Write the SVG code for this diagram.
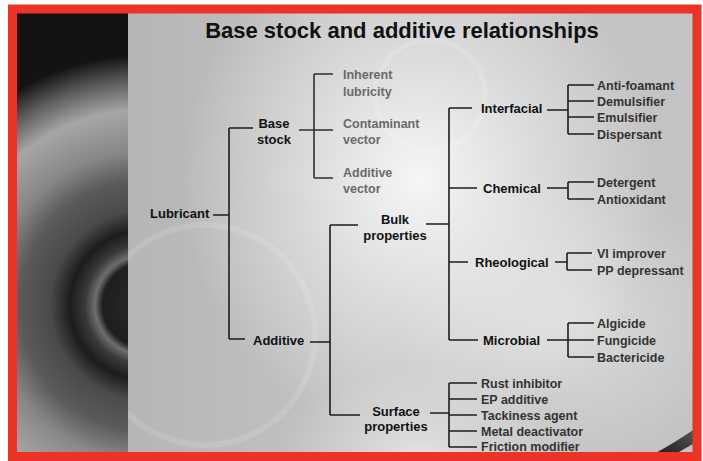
<svg xmlns="http://www.w3.org/2000/svg" width="703" height="461" viewBox="0 0 703 461">
<defs>
<radialGradient id="ring" gradientUnits="userSpaceOnUse" cx="145" cy="305" r="250">
<stop offset="0" stop-color="#2a2a2a"/>
<stop offset="0.17" stop-color="#1e1e1e"/>
<stop offset="0.2" stop-color="#6e6e6e"/>
<stop offset="0.24" stop-color="#3a3a3a"/>
<stop offset="0.3" stop-color="#1c1c1c"/>
<stop offset="0.38" stop-color="#4a4a4a"/>
<stop offset="0.5" stop-color="#5a5a5a"/>
<stop offset="0.62" stop-color="#888888"/>
<stop offset="0.78" stop-color="#a6a6a6"/>
<stop offset="0.9" stop-color="#5a5a5a"/>
<stop offset="1" stop-color="#131313"/>
</radialGradient>
<linearGradient id="lft" x1="0" y1="0" x2="1" y2="0">
<stop offset="0" stop-color="#b4b4b4" stop-opacity="0.9"/>
<stop offset="1" stop-color="#b4b4b4" stop-opacity="0"/>
</linearGradient>
<radialGradient id="glow">
<stop offset="0" stop-color="#ffffff" stop-opacity="0.85"/>
<stop offset="0.5" stop-color="#ffffff" stop-opacity="0.4"/>
<stop offset="1" stop-color="#ffffff" stop-opacity="0"/>
</radialGradient>
<linearGradient id="curl" x1="0" y1="1" x2="1" y2="0">
<stop offset="0" stop-color="#1a1a1a"/>
<stop offset="1" stop-color="#555555"/>
</linearGradient>
<style>
.t{font-family:"Liberation Sans",Arial,sans-serif;font-weight:bold;}
.n{font-size:13px;fill:#111111;}
.l{font-size:12.5px;fill:#333333;}
.g{font-size:12.5px;fill:#6a6a6a;}
.c{fill:none;stroke:#1c1c1c;stroke-width:1.6;}
.cg{fill:none;stroke:#2e2e2e;stroke-width:1.6;}
</style>
</defs>
<g id="background">
<rect x="17" y="13" width="676" height="442" fill="#c3c3c3"/>
<rect x="128" y="13" width="220" height="442" fill="url(#lft)"/>
<ellipse cx="420" cy="180" rx="240" ry="260" fill="url(#glow)"/>
<ellipse cx="570" cy="320" rx="170" ry="150" fill="url(#glow)" opacity="0.5"/>
<ellipse cx="420" cy="455" rx="140" ry="90" fill="url(#glow)" opacity="0.6"/>
<circle cx="205" cy="335" r="110" fill="none" stroke="#ffffff" stroke-opacity="0.12" stroke-width="6"/>
<circle cx="430" cy="95" r="55" fill="none" stroke="#ffffff" stroke-opacity="0.15" stroke-width="5"/>
<rect x="17" y="13" width="111" height="442" fill="url(#ring)"/>
<path d="M652,455 Q676,442 693,430 L693,444 Q682,450 674,455 Z" fill="url(#curl)"/>
<rect x="12.5" y="9" width="684.5" height="447.5" fill="none" stroke="#ec3326" stroke-width="9"/>
</g>
<text class="t" x="402" y="38" font-size="22" text-anchor="middle" fill="#111">Base stock and additive relationships</text>
<g id="connectors">
<path class="c" d="M213,215 H229 M229,128 V339 M229,128 H253 M229,339 H245"/>
<path class="cg" d="M299,130 H333 M314,74 V178 M314,74 H333 M314,178 H333"/>
<path class="c" d="M310,342 H330 M330,225 V415 M330,225 H358 M330,415 H360"/>
<path class="c" d="M426,224 H449 M449,108 V340 M449,108 H472 M449,188 H477 M449,262 H468 M449,340 H478"/>
<path class="c" d="M547,110 H568 M568,85 V134 M568,85 H594 M568,101 H594 M568,117 H594 M568,134 H594"/>
<path class="c" d="M547,188 H568 M568,182 V199 M568,182 H594 M568,199 H594"/>
<path class="c" d="M555,262 H567 M567,253 V270 M567,253 H592 M567,270 H592"/>
<path class="c" d="M547,340 H568 M568,323 V357 M568,323 H594 M568,340 H594 M568,357 H594"/>
<path class="c" d="M430,413 H449 M449,383 V447 M449,383 H477 M449,399 H477 M449,415 H477 M449,431 H477 M449,447 H477"/>
</g>
<g id="lubricant"><text class="t n" x="150" y="218">Lubricant</text></g>
<g id="base-stock"><text class="t n" x="274" y="127.5" text-anchor="middle">Base</text><text class="t n" x="274" y="143.5" text-anchor="middle">stock</text></g>
<g id="inherent-lubricity"><text class="t g" x="343" y="78.5">Inherent</text><text class="t g" x="343" y="96">lubricity</text></g>
<g id="contaminant-vector"><text class="t g" x="343" y="127.5">Contaminant</text><text class="t g" x="343" y="144">vector</text></g>
<g id="additive-vector"><text class="t g" x="343" y="176.5">Additive</text><text class="t g" x="343" y="193">vector</text></g>
<g id="additive"><text class="t n" x="253" y="345">Additive</text></g>
<g id="bulk-properties"><text class="t n" x="395" y="224" text-anchor="middle">Bulk</text><text class="t n" x="395" y="240" text-anchor="middle">properties</text></g>
<g id="surface-properties"><text class="t n" x="396" y="416" text-anchor="middle">Surface</text><text class="t n" x="396" y="431" text-anchor="middle">properties</text></g>
<g id="interfacial"><text class="t n" x="481" y="113">Interfacial</text></g>
<g id="chemical"><text class="t n" x="483" y="193">Chemical</text></g>
<g id="rheological"><text class="t n" x="475" y="267">Rheological</text></g>
<g id="microbial"><text class="t n" x="483" y="345">Microbial</text></g>
<g id="anti-foamant"><text class="t l" x="597" y="90">Anti-foamant</text></g>
<g id="demulsifier"><text class="t l" x="597" y="106">Demulsifier</text></g>
<g id="emulsifier"><text class="t l" x="597" y="122">Emulsifier</text></g>
<g id="dispersant"><text class="t l" x="597" y="138.5">Dispersant</text></g>
<g id="detergent"><text class="t l" x="597" y="187">Detergent</text></g>
<g id="antioxidant"><text class="t l" x="597" y="203.5">Antioxidant</text></g>
<g id="vi-improver"><text class="t l" x="597" y="257.5">VI improver</text></g>
<g id="pp-depressant"><text class="t l" x="597" y="274.5">PP depressant</text></g>
<g id="algicide"><text class="t l" x="597" y="327.5">Algicide</text></g>
<g id="fungicide"><text class="t l" x="597" y="344.5">Fungicide</text></g>
<g id="bactericide"><text class="t l" x="597" y="361.5">Bactericide</text></g>
<g id="rust-inhibitor"><text class="t l" x="481" y="387.5">Rust inhibitor</text></g>
<g id="ep-additive"><text class="t l" x="481" y="403.5">EP additive</text></g>
<g id="tackiness-agent"><text class="t l" x="481" y="419.5">Tackiness agent</text></g>
<g id="metal-deactivator"><text class="t l" x="481" y="435.5">Metal deactivator</text></g>
<g id="friction-modifier"><text class="t l" x="481" y="451">Friction modifier</text></g>
</svg>
